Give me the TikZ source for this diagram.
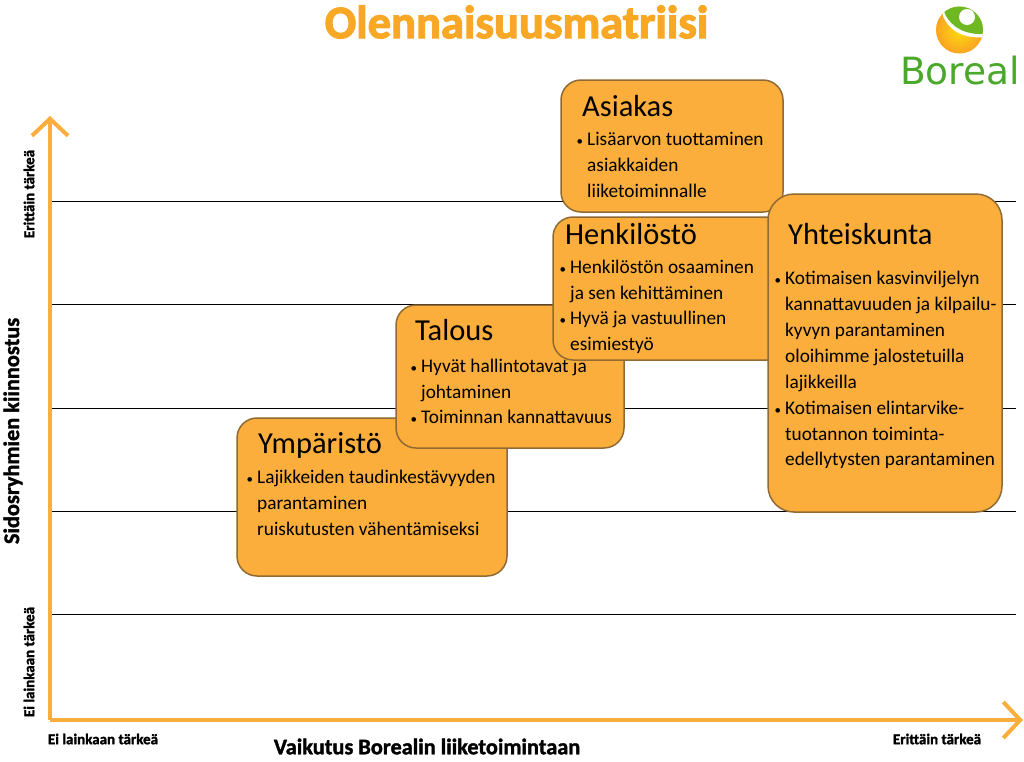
\documentclass[tikz,border=0pt]{standalone}
\usepackage{fontspec}
\setmainfont{Carlito}
\newfontfamily\logofont{DejaVu Sans}
\newfontfamily\heavyfont[FakeBold=1.5]{Carlito Bold}
\newfontfamily\titlefont[FakeBold=2.5]{Carlito Bold}
\usetikzlibrary{arrows.meta}
\definecolor{boxfill}{HTML}{FBAE3C}
\definecolor{boxedge}{HTML}{8F6A35}
\definecolor{titleor}{HTML}{F9A825}
\definecolor{logogreen}{HTML}{4AA82A}
\newcommand{\bul}{\llap{\fontsize{13}{13}\selectfont•\hspace{4pt}}}
\tikzset{
  x=1pt,y=-1pt,
  card/.style={draw=boxedge,line width=1.5pt,fill=boxfill,rounded corners=20pt},
  gridline/.style={draw=black,line width=1pt},
  axisline/.style={draw=boxfill,line width=4pt,-{Straight Barb[length=17pt,width=36pt,line width=4pt]}},
  head/.style={anchor=base west,inner sep=0pt,font=\fontsize{30.5}{31}\selectfont,text=black},
  body/.style={anchor=north west,inner sep=0pt,align=left,font=\fontsize{19.3}{25.9}\selectfont,text=black},
  small/.style={inner sep=0pt,font=\heavyfont\fontsize{15}{16}\selectfont,text=black},
  axlabel/.style={inner sep=0pt,font=\heavyfont\fontsize{22.3}{23}\selectfont,text=black},
}
\begin{document}
\begin{tikzpicture}
\useasboundingbox (0,0) rectangle (1024,761);
\fill[white] (0,0) rectangle (1024,761);
% title
\node[inner sep=0pt,font=\titlefont\fontsize{46.5}{47}\selectfont,text=titleor] (title) at (516.5,22) {Olennaisuusmatriisi};
% logo
\shade[inner color=yellow!60!titleor,outer color=titleor!90!orange] (959.5,30) circle (23.5);
\begin{scope}
\clip (959.5,30) circle (23.5);
\fill[white] (942,4) -- (943,16) .. controls (950,32) and (965,39) .. (985,37) -- (985,4) -- cycle;
\fill[logogreen!80!yellow] (942,4) -- (945,14) .. controls (952,28) and (966,35) .. (985,34) -- (985,4) -- cycle;
\end{scope}
\fill[white] (967,17) circle (8);
\node[inner sep=0pt,font=\logofont\fontsize{37.5}{38}\selectfont,text=logogreen] (logo) at (960,71) {Boreal};
% grid
\foreach \n/\yy in {a/201,b/304,c/408,d/511,e/614}{
  \coordinate (g\n l) at (52,\yy);
  \coordinate (g\n r) at (1016,\yy);
  \draw[gridline] (g\n l) -- (g\n r);
}
% axes
\coordinate (origin) at (50,720);
\coordinate (ytop) at (50,116);
\coordinate (xend) at (1023,720);
\draw[axisline] (origin) -- (ytop);
\draw[axisline] (origin) -- (xend);
% axis labels
\node[small,rotate=90] (yhi) at (29,194) {Erittäin tärkeä};
\node[small,rotate=90] (ylo) at (29,662) {Ei lainkaan tärkeä};
\node[small] (xlo) at (103,739) {Ei lainkaan tärkeä};
\node[small] (xhi) at (937,739) {Erittäin tärkeä};
\node[axlabel,rotate=90] (ylab) at (13,431) {Sidosryhmien kiinnostus};
\node[axlabel] (xlab) at (427,746.5) {Vaikutus Borealin liiketoimintaan};
% Ympäristö
\node[card,minimum width=270pt,minimum height=158pt,inner sep=0pt] (ymp) at (372,497) {};
\node[head] (ympt) at (258,453) {Ympäristö};
\node[body] (ympb) at (257,470) {\bul Lajikkeiden taudinkestävyyden\\parantaminen\\ruiskutusten vähentämiseksi};
% Talous
\node[card,minimum width=228pt,minimum height=143pt,inner sep=0pt] (tal) at (510,376.5) {};
\node[head] (talt) at (415,340) {Talous};
\node[body] (talb) at (421,358.5) {\bul Hyvät hallintotavat ja\\johtaminen\\\bul Toiminnan kannattavuus};
% Henkilöstö
\node[card,minimum width=240pt,minimum height=143pt,inner sep=0pt] (hen) at (673,288.5) {};
\node[head] (hent) at (565,244.5) {Henkilöstö};
\node[body] (henb) at (570,259.5) {\bul Henkilöstön osaaminen\\ja sen kehittäminen\\\bul Hyvä ja vastuullinen\\esimiestyö};
% Asiakas
\node[card,minimum width=222pt,minimum height=132pt,inner sep=0pt] (asi) at (672,146) {};
\node[head] (asit) at (582,116) {Asiakas};
\node[body] (asib) at (587,132.5) {\bul Lisäarvon tuottaminen\\asiakkaiden\\liiketoiminnalle};
% Yhteiskunta
\node[card,rounded corners=26pt,minimum width=234pt,minimum height=318pt,inner sep=0pt] (yht) at (885,353) {};
\node[head] (yhtt) at (788,244) {Yhteiskunta};
\node[body] (yhtb) at (785,271) {\bul Kotimaisen kasvinviljelyn\\kannattavuuden ja kilpailu-\\kyvyn parantaminen\\oloihimme jalostetuilla\\lajikkeilla\\\bul Kotimaisen elintarvike-\\tuotannon toiminta-\\edellytysten parantaminen};
\end{tikzpicture}
\end{document}
